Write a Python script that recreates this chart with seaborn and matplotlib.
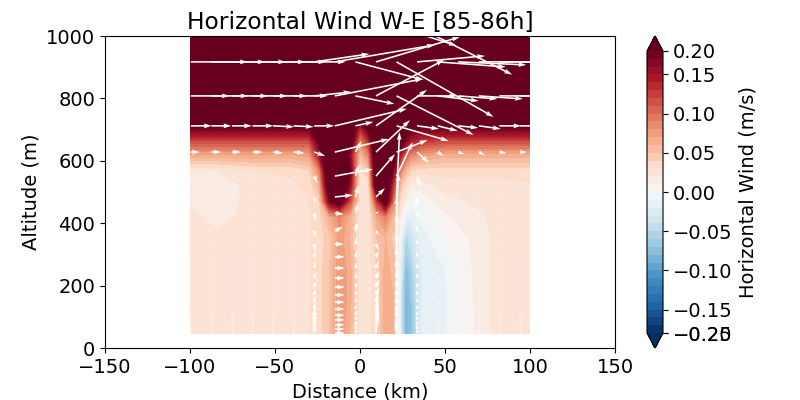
import numpy as np
import matplotlib
matplotlib.use("Agg")
import matplotlib.pyplot as plt
import seaborn as sns

# ---- contour field: horizontal wind (m/s) by altitude row
dist_km = [-100, -85, -60, -40, -30, -24, -18, -12, -6, 0, 5, 10, 15, 20, 24, 27, 30, 36, 50, 70, 85, 100]
alt_m = [48, 150, 250, 350, 420, 470, 520, 570, 620, 660, 700, 730, 1000]
u_48 = [.028, .028, .028, .028, .03, .035, .05, .08, .06, .025, .025, .04, .065, .06, -.03, -.085, -.07, -.02, -.012, .012, .028, .03]
u_150 = [.026, .028, .028, .028, .03, .035, .05, .08, .065, .025, .025, .04, .065, .06, -.03, -.085, -.07, -.02, -.012, .014, .028, .03]
u_250 = [.026, .026, .028, .028, .03, .035, .05, .08, .065, .025, .025, .04, .065, .055, -.025, -.08, -.06, -.02, -.01, .015, .026, .028]
u_350 = [.026, .024, .026, .028, .03, .035, .045, .075, .06, .025, .025, .05, .06, .045, -.01, -.055, -.04, -.015, -.002, .015, .026, .026]
u_420 = [.026, .015, .026, .028, .03, .035, .065, .085, .065, .025, .025, .07, .09, .055, .01, -.015, -.02, -.008, .008, .018, .026, .026]
u_470 = [.016, .012, .026, .028, .03, .04, .17, .2, .12, .022, .025, .13, .2, .09, .03, .01, -.004, .002, .016, .022, .026, .026]
u_520 = [.016, .012, .026, .028, .032, .06, .22, .22, .16, .022, .03, .22, .22, .12, .05, .03, .015, .014, .024, .026, .026, .028]
u_570 = [.02, .02, .03, .032, .04, .09, .24, .24, .18, .025, .05, .24, .24, .16, .09, .06, .04, .035, .035, .035, .035, .035]
u_620 = [.07, .07, .07, .07, .075, .15, .24, .24, .16, .055, .09, .24, .24, .2, .14, .11, .09, .075, .065, .065, .065, .065]
u_660 = [.115, .115, .115, .115, .115, .18, .24, .24, .21, .085, .13, .24, .24, .24, .2, .16, .14, .125, .115, .115, .115, .115]
u_700 = [.17, .17, .17, .17, .17, .2, .24, .24, .22, .13, .18, .24, .24, .24, .22, .2, .18, .17, .17, .17, .17, .17]
u_730 = [.22, .22, .22, .22, .22, .22, .24, .24, .24, .19, .22, .24, .24, .24, .22, .22, .22, .22, .22, .22, .22, .22]
u_1000 = [.24] * 22

# ---- quiver samples
arrow_km = [-99.5, -87.4, -75.3, -63.2, -51.1, -39, -26.9, -14.8, -2.7, 9.4, 21.5, 33.6, 45.7, 57.8, 69.9, 82, 94.1]
arrow_alt = [1030, 917, 808, 712, 628, 551, 484, 432, 375, 333, 292, 256, 224, 195, 170, 147, 125, 105, 90, 74, 61, 48]
au_1030 = [.6, .6, .6, .6, .6, .6, .6, .6, .6, .6, .6, .95, .7, .7, .7, .7, .7]
av_1030 = [0, 0, 0, 0, 0, 0, 0, 0, 0, 0, -.19, -.48, 0, 0, 0, 0, 0]
au_917 = [.57, .54, .54, .53, .53, .52, .55, 1.0, .68, .84, .97, .68, .68, .68, .68, .68, .68]
av_917 = [0, 0, 0, 0, 0, 0, .08, .17, -.18, .25, -.55, .06, -.05, -.03, 0, 0, 0]
au_808 = [.39, .37, .36, .35, .34, .34, .37, .88, .39, .68, .77, .40, .41, .39, .44, .42, .40]
av_808 = [0, 0, 0, 0, 0, 0, .04, .17, -.08, .36, -.39, 0, -.05, -.03, -.03, 0, 0]
au_712 = [.21, .20, .20, .21, .21, .20, .20, .72, .18, .51, .52, .22, .20, .20, .22, .22, .20]
av_712 = [0, 0, 0, 0, -.01, -.01, 0, .17, .04, .36, -.15, -.03, -.05, -.02, -.03, 0, 0]
au_628 = [.09, .10, .09, .10, .10, .11, .11, .54, .06, .34, .31, .12, .06, .06, .06, .07, .07]
av_628 = [0, 0, 0, 0, -.01, -.01, -.04, .13, .11, .32, .12, -.11, -.04, -.02, -.03, -.01, 0]
au_551 = [.025, .025, .025, .025, .025, .025, .03, .38, .04, .19, .16, .03, .02, .02, .02, .02, .02]
av_551 = [0, 0, 0, 0, -.01, -.01, -.07, .07, .12, .22, .34, -.11, -.01, -.01, -.01, -.01, 0]
au_484 = [.01, .01, .01, .01, .01, .01, .01, .18, .03, .09, .03, -.01, .005, .005, .01, .01, .01]
av_484 = [0, 0, 0, 0, 0, 0, -.06, .02, .12, .09, .65, -.10, 0, 0, 0, 0, 0]
au_432 = [.005, .005, .005, .005, .005, .005, .01, .09, .03, .03, .02, 0, .005, .005, .005, .005, .005]
av_432 = [0, 0, 0, 0, 0, 0, -.08, -.01, .10, .02, .40, -.05, 0, 0, 0, 0, 0]
au_375 = [.005, .005, .005, .005, .005, .005, .01, .08, .02, .03, 0, 0, .005, .005, .005, .005, .005]
av_375 = [0, 0, 0, 0, 0, 0, -.07, .04, .09, -.04, .35, .06, 0, 0, 0, 0, 0]
au_333 = [.005, .005, .005, .005, .005, .005, .01, .09, .02, .03, 0, 0, .005, .005, .005, .005, .005]
av_333 = [0, 0, 0, 0, 0, 0, -.07, 0, .07, -.06, .30, .05, 0, 0, 0, 0, 0]
au_292 = [.005, .005, .005, .005, .005, .005, .01, .10, .02, .03, 0, 0, .005, .005, .005, .005, .005]
av_292 = [0, 0, 0, 0, 0, 0, .06, 0, .06, .06, .25, .05, 0, 0, 0, 0, 0]
au_256 = [.005, .005, .005, .005, .005, .005, .01, .10, .015, .03, 0, 0, .005, .005, .005, .005, .005]
av_256 = [0, 0, 0, 0, 0, 0, .06, 0, .06, .07, .22, .05, 0, 0, 0, 0, 0]
au_224 = [.005, .005, .005, .005, .005, .005, .01, .10, .015, .03, 0, 0, .005, .005, .005, .005, .005]
av_224 = [.01, .01, .01, .01, .01, .01, .06, 0, .06, .07, .20, .05, .01, .01, .01, .01, .01]
au_195 = [.005, .005, .005, .005, .005, .005, .01, .10, .015, .03, 0, 0, .005, .005, .005, .005, .005]
av_195 = [.01, .01, .01, .01, .01, .01, .06, 0, .05, .08, .18, .05, .01, .01, .01, .01, .01]
au_170 = [.005, .005, .005, .005, .005, .005, .01, .10, .01, .03, 0, 0, .005, .005, .005, .005, .005]
av_170 = [.01, .01, .01, .01, .01, .01, .07, 0, .05, .08, .17, .05, .01, .01, .01, .01, .01]
au_147 = [.005, .005, .005, .005, .005, .005, .01, .10, .01, .02, 0, 0, .005, .005, .005, .005, .005]
av_147 = [.01, .01, .01, .01, .01, .01, .07, 0, .05, .09, .15, .05, .01, .01, .01, .01, .01]
au_125 = [.005, .005, .005, .005, .005, .005, .01, .10, .01, .02, 0, 0, .005, .005, .005, .005, .005]
av_125 = [.02, .02, .02, .02, .02, .02, .07, 0, .05, .09, .14, .05, .02, .02, .02, .02, .02]
au_105 = [.005, .005, .005, .005, .005, .005, .005, .10, .01, .02, 0, 0, .005, .005, .005, .005, .005]
av_105 = [.02, .02, .02, .02, .02, .02, .08, 0, .05, .11, .12, .05, .02, .02, .02, .02, .02]
au_90 = [.005, .005, .005, .005, .005, .005, .005, .10, .01, .02, 0, 0, .005, .005, .005, .005, .005]
av_90 = [.02, .02, .02, .02, .02, .02, .08, 0, .05, .13, .12, .05, .02, .02, .02, .02, .02]
au_74 = [.005, .005, .005, .005, .005, .005, .005, .10, .01, .02, 0, 0, .005, .005, .005, .005, .005]
av_74 = [.03, .03, .03, .03, .03, .03, .09, 0, .05, .15, .10, .05, .03, .03, .03, .03, .03]
au_61 = [.005, .005, .005, .005, .005, .005, .005, .10, .01, .02, 0, 0, .005, .005, .005, .005, .005]
av_61 = [.03, .03, .03, .03, .03, .03, .09, 0, .05, .17, .10, .05, .03, .03, .03, .03, .03]
au_48 = [.005, .005, .005, .005, .005, .005, .005, .10, .01, .02, 0, 0, .005, .005, .005, .005, .005]
av_48 = [.03, .03, .03, .03, .03, .03, .10, 0, .05, .19, .10, .05, .03, .03, .03, .03, .03]

tick_vals = [-.18, -.1801, -.15, -.10, -.05, 0, .05, .10, .15, .18]
tick_text = ["\u22120.20", "\u22120.25", "\u22120.15", "\u22120.10", "\u22120.05", "0.00", "0.05", "0.10", "0.15", "0.20"]

field = np.array([u_48, u_150, u_250, u_350, u_420, u_470, u_520, u_570, u_620, u_660, u_700, u_730, u_1000])
arrow_u = np.array([au_1030, au_917, au_808, au_712, au_628, au_551, au_484, au_432, au_375, au_333, au_292,
                    au_256, au_224, au_195, au_170, au_147, au_125, au_105, au_90, au_74, au_61, au_48])
arrow_v = np.array([av_1030, av_917, av_808, av_712, av_628, av_551, av_484, av_432, av_375, av_333, av_292,
                    av_256, av_224, av_195, av_170, av_147, av_125, av_105, av_90, av_74, av_61, av_48])

sns.set_theme(style="white", rc={
    "font.family": "DejaVu Sans", "text.color": "black", "axes.labelcolor": "black",
    "axes.edgecolor": "black", "axes.linewidth": 0.8,
    "xtick.color": "black", "ytick.color": "black",
    "xtick.bottom": True, "ytick.left": True,
    "xtick.major.size": 3.5, "ytick.major.size": 3.5,
    "xtick.major.width": 0.8, "ytick.major.width": 0.8,
    "xtick.labelsize": 14, "ytick.labelsize": 14,
    "axes.labelsize": 14, "axes.titlesize": 16.8,
})

cmap = sns.color_palette("RdBu_r", as_cmap=True)
levels = np.linspace(-.18, .18, 37)

fig = plt.figure(figsize=(8, 4), dpi=100)
ax = fig.add_axes([105 / 800, 52 / 400, 510 / 800, 312 / 400])
cs = ax.contourf(dist_km, alt_m, field, levels=levels, cmap=cmap, extend="both")
ax.quiver(arrow_km, arrow_alt, arrow_u, arrow_v, color="white", angles="uv",
          scale_units="dots", scale=0.01, units="dots", width=1.6)
ax.set_xlim(-150, 150)
ax.set_ylim(0, 1000)
ax.set_xlabel("Distance (km)")
ax.set_ylabel("Altitude (m)")
ax.set_title("Horizontal Wind W-E [85-86h]", pad=5)

cax = fig.add_axes([647 / 800, 52 / 400, 16 / 800, 312 / 400])
cb = fig.colorbar(cs, cax=cax, extendfrac=0.053)
cb.set_ticks(tick_vals)
cb.set_ticklabels(tick_text)
cb.minorticks_off()
cb.set_label("Horizontal Wind (m/s)", labelpad=4)
fig.savefig("out.png", dpi=100)
